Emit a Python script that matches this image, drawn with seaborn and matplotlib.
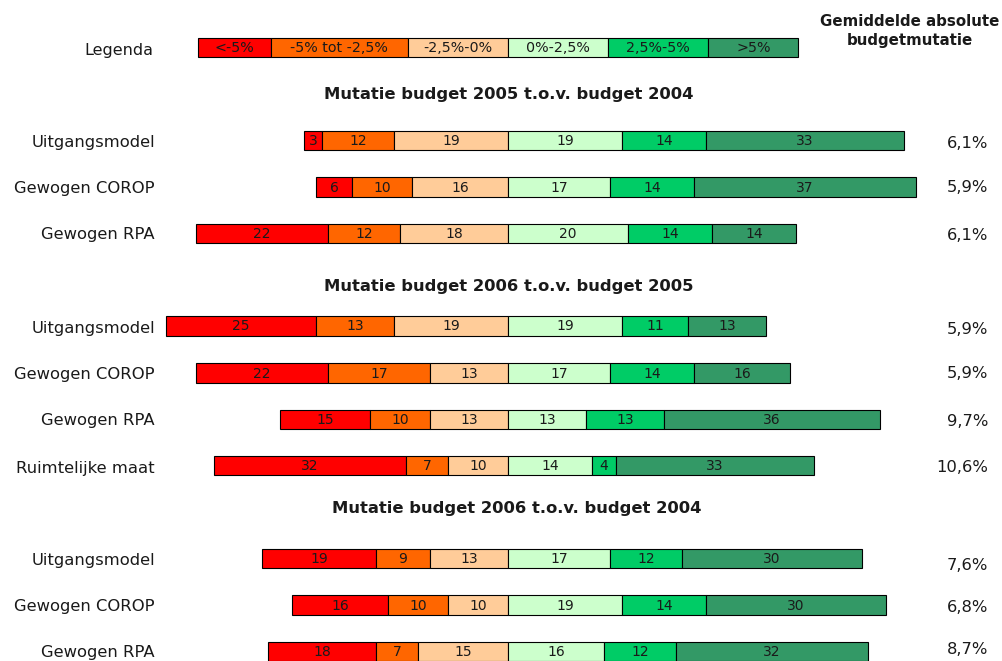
import matplotlib
matplotlib.use("Agg")
import matplotlib.pyplot as plt
import seaborn as sns

# ---- data ----
categories = ["<-5%", "-5% tot -2,5%", "-2,5%-0%", "0%-2,5%", "2,5%-5%", ">5%"]
colors = ["#FF0000", "#FF6600", "#FFCC99", "#CCFFCC", "#00CC66", "#339966"]
legend_widths = [12.2, 22.8, 16.7, 16.7, 16.7, 15.0]

section_titles = [
    "Mutatie budget 2005 t.o.v. budget 2004",
    "Mutatie budget 2006 t.o.v. budget 2005",
    "Mutatie budget 2006 t.o.v. budget 2004",
]

models_1 = ["Uitgangsmodel", "Gewogen COROP", "Gewogen RPA"]
neg_1 = [[3, 12, 19], [6, 10, 16], [22, 12, 18]]
pos_1 = [[19, 14, 33], [17, 14, 37], [20, 14, 14]]
avg_1 = ["6,1%", "5,9%", "6,1%"]

models_2 = ["Uitgangsmodel", "Gewogen COROP", "Gewogen RPA", "Ruimtelijke maat"]
neg_2 = [[25, 13, 19], [22, 17, 13], [15, 10, 13], [32, 7, 10]]
pos_2 = [[19, 11, 13], [17, 14, 16], [13, 13, 36], [14, 4, 33]]
avg_2 = ["5,9%", "5,9%", "9,7%", "10,6%"]

models_3 = ["Uitgangsmodel", "Gewogen COROP", "Gewogen RPA"]
neg_3 = [[19, 9, 13], [16, 10, 10], [18, 7, 15]]
pos_3 = [[17, 12, 30], [19, 14, 30], [16, 12, 32]]
avg_3 = ["7,6%", "6,8%", "8,7%"]

# ---- layout (pixel rows) ----
title_y = [95, 286, 508]
bar_y = [[140.5, 187, 233.5], [326, 373, 419.5, 465.5], [558.5, 605, 651.5]]
label_y = [[143, 188, 235], [329, 374, 420, 468], [560, 607, 653]]
avg_y = [[143, 188, 235], [329, 373, 421, 468], [565, 607, 649]]
title_x = [509, 509, 517]

sns.set_theme(style="white")
plt.rcParams["font.family"] = ["DejaVu Sans"]

W, H = 1003, 661
ZERO, SCALE = 508, 6.0
fig = plt.figure(figsize=(W / 100, H / 100), dpi=100)
ax = fig.add_axes([0, 0, 1, 1])
ax.set_xlim(-ZERO / SCALE, (W - ZERO) / SCALE)
ax.set_ylim(H, 0)
ax.axis("off")


def px(x):
    return (x - ZERO) / SCALE


BAR_H = 19.5
TXT = "#1a1a1a"


def draw_row(y, neg, pos):
    widths = list(neg) + list(pos)
    left = -sum(neg)
    for w, c in zip(widths, colors):
        ax.barh(y, w, left=left, height=BAR_H, color=c, edgecolor="black", linewidth=0.8)
        ax.text(left + w / 2, y + 0.5, str(w), ha="center", va="center", fontsize=10, color=TXT)
        left += w


# legend row
ax.text(px(153), 50, "Legenda", ha="right", va="center", fontsize=11.5, color=TXT)
left = -sum(legend_widths[:3])
for w, c, lab in zip(legend_widths, colors, categories):
    ax.barh(47.5, w, left=left, height=19, color=c, edgecolor="black", linewidth=0.8)
    ax.text(left + w / 2, 48, lab, ha="center", va="center", fontsize=10.3, color=TXT)
    left += w

ax.text(px(910), 22, "Gemiddelde absolute", ha="center", va="center", fontsize=10.8, fontweight="bold", color=TXT)
ax.text(px(910), 41, "budgetmutatie", ha="center", va="center", fontsize=10.8, fontweight="bold", color=TXT)

sections = [
    (models_1, neg_1, pos_1, avg_1),
    (models_2, neg_2, pos_2, avg_2),
    (models_3, neg_3, pos_3, avg_3),
]
for s, (models, negs, poss, avgs) in enumerate(sections):
    ax.text(px(title_x[s]), title_y[s], section_titles[s], ha="center", va="center",
            fontsize=11.8, fontweight="bold", color=TXT)
    for i, m in enumerate(models):
        ax.text(px(155), label_y[s][i], m, ha="right", va="center", fontsize=11.8, color=TXT)
        draw_row(bar_y[s][i], negs[i], poss[i])
        ax.text(px(988), avg_y[s][i], avgs[i], ha="right", va="center", fontsize=11.8, color=TXT)

fig.savefig("out.png", dpi=100)
